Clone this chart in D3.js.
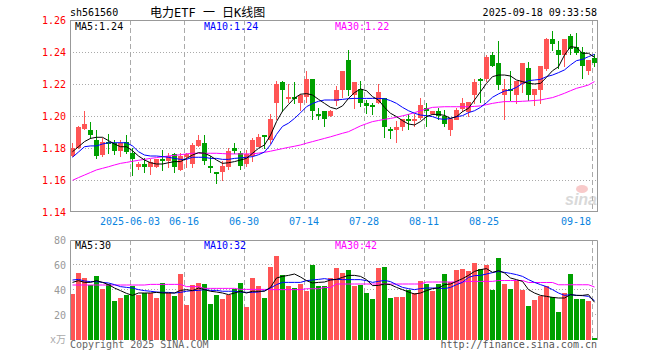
<!doctype html>
<html lang="zh-CN">
	<head>
		<meta charset="UTF-8" />
		<title>电力ETF 日K线图</title>
		<script src="https://d3js.org/d3.v7.min.js"></script>
		<style>
			body {
				margin: 0;
				background: #fff;
			}
			svg {
				display: block;
				font-family: 'DejaVu Sans Mono', 'Noto Sans CJK SC', monospace;
				font-size: 10px;
			}
			.grid-h {
				stroke: #aaa;
				stroke-dasharray: 1, 2;
			}
			.grid-v {
				stroke: #aaa;
				stroke-dasharray: 5, 3;
			}
			.frame {
				stroke: #999;
				fill: none;
			}
			.ma {
				fill: none;
				stroke-width: 1;
			}
		</style>
	</head>
	<body>
		<svg width="660" height="360"></svg>
		<script>
			// trading days shown on the chart
			const dates = [
				'2025-05-19', '2025-05-20', '2025-05-21', '2025-05-22', '2025-05-23', '2025-05-26', '2025-05-27', '2025-05-28', '2025-05-29', '2025-05-30',
				'2025-06-03', '2025-06-04', '2025-06-05', '2025-06-06', '2025-06-09', '2025-06-10', '2025-06-11', '2025-06-12', '2025-06-13', '2025-06-16',
				'2025-06-17', '2025-06-18', '2025-06-19', '2025-06-20', '2025-06-23', '2025-06-24', '2025-06-25', '2025-06-26', '2025-06-27', '2025-06-30',
				'2025-07-01', '2025-07-02', '2025-07-03', '2025-07-04', '2025-07-07', '2025-07-08', '2025-07-09', '2025-07-10', '2025-07-11', '2025-07-14',
				'2025-07-15', '2025-07-16', '2025-07-17', '2025-07-18', '2025-07-21', '2025-07-22', '2025-07-23', '2025-07-24', '2025-07-25', '2025-07-28',
				'2025-07-29', '2025-07-30', '2025-07-31', '2025-08-01', '2025-08-04', '2025-08-05', '2025-08-06', '2025-08-07', '2025-08-08', '2025-08-11',
				'2025-08-12', '2025-08-13', '2025-08-14', '2025-08-15', '2025-08-18', '2025-08-19', '2025-08-20', '2025-08-21', '2025-08-22', '2025-08-25',
				'2025-08-26', '2025-08-27', '2025-08-28', '2025-08-29', '2025-09-01', '2025-09-02', '2025-09-03', '2025-09-04', '2025-09-05', '2025-09-08',
				'2025-09-09', '2025-09-10', '2025-09-11', '2025-09-12', '2025-09-15', '2025-09-16', '2025-09-17', '2025-09-18'
			]

			const open = [
				1.175, 1.180, 1.192, 1.191, 1.185, 1.176, 1.184, 1.183, 1.178, 1.184,
				1.177, 1.168, 1.170, 1.168, 1.168, 1.173, 1.172, 1.176, 1.166, 1.174,
				1.170, 1.181, 1.183, 1.169, 1.165, 1.165, 1.168, 1.180, 1.177, 1.170,
				1.175, 1.181, 1.188, 1.185, 1.208, 1.221, 1.211, 1.212, 1.208, 1.212,
				1.223, 1.201, 1.203, 1.200, 1.209, 1.216, 1.235, 1.213, 1.217, 1.208,
				1.207, 1.208, 1.211, 1.192, 1.191, 1.193, 1.198, 1.197, 1.199, 1.205,
				1.201, 1.203, 1.200, 1.191, 1.198, 1.204, 1.203, 1.213, 1.223, 1.223,
				1.238, 1.233, 1.213, 1.217, 1.213, 1.220, 1.230, 1.213, 1.216, 1.229,
				1.248, 1.241, 1.238, 1.250, 1.243, 1.240, 1.228, 1.236
			]
			const high = [
				1.183, 1.194, 1.203, 1.196, 1.191, 1.186, 1.189, 1.185, 1.185, 1.188,
				1.180, 1.171, 1.174, 1.173, 1.173, 1.179, 1.177, 1.177, 1.177, 1.177,
				1.183, 1.188, 1.188, 1.175, 1.165, 1.172, 1.180, 1.183, 1.178, 1.179,
				1.186, 1.189, 1.188, 1.201, 1.222, 1.222, 1.220, 1.221, 1.214, 1.228,
				1.223, 1.205, 1.203, 1.204, 1.219, 1.228, 1.241, 1.221, 1.222, 1.210,
				1.208, 1.220, 1.211, 1.193, 1.197, 1.198, 1.201, 1.201, 1.211, 1.208,
				1.203, 1.205, 1.204, 1.199, 1.205, 1.211, 1.209, 1.223, 1.224, 1.238,
				1.240, 1.247, 1.223, 1.228, 1.222, 1.233, 1.234, 1.217, 1.231, 1.249,
				1.253, 1.247, 1.248, 1.251, 1.252, 1.243, 1.235, 1.239
			]
			const low = [
				1.175, 1.180, 1.192, 1.186, 1.174, 1.175, 1.177, 1.176, 1.175, 1.177,
				1.163, 1.167, 1.165, 1.164, 1.168, 1.166, 1.168, 1.165, 1.166, 1.168,
				1.168, 1.181, 1.170, 1.165, 1.158, 1.160, 1.167, 1.177, 1.167, 1.169,
				1.172, 1.181, 1.180, 1.183, 1.198, 1.203, 1.209, 1.208, 1.204, 1.209,
				1.198, 1.198, 1.194, 1.200, 1.207, 1.212, 1.213, 1.205, 1.206, 1.202,
				1.201, 1.208, 1.187, 1.186, 1.184, 1.191, 1.192, 1.194, 1.198, 1.194,
				1.201, 1.198, 1.194, 1.188, 1.198, 1.203, 1.200, 1.208, 1.209, 1.222,
				1.231, 1.217, 1.198, 1.210, 1.208, 1.215, 1.210, 1.207, 1.208, 1.229,
				1.241, 1.230, 1.231, 1.239, 1.239, 1.224, 1.226, 1.231
			]
			const close = [
				1.180, 1.193, 1.195, 1.188, 1.175, 1.184, 1.183, 1.178, 1.183, 1.178,
				1.173, 1.170, 1.168, 1.171, 1.173, 1.172, 1.175, 1.168, 1.175, 1.176,
				1.182, 1.185, 1.172, 1.168, 1.164, 1.169, 1.178, 1.178, 1.169, 1.176,
				1.185, 1.187, 1.187, 1.198, 1.220, 1.216, 1.212, 1.211, 1.213, 1.223,
				1.203, 1.200, 1.198, 1.203, 1.216, 1.228, 1.216, 1.221, 1.208, 1.206,
				1.206, 1.215, 1.193, 1.191, 1.193, 1.198, 1.197, 1.198, 1.207, 1.203,
				1.203, 1.200, 1.195, 1.198, 1.204, 1.208, 1.209, 1.221, 1.222, 1.237,
				1.231, 1.219, 1.217, 1.216, 1.222, 1.233, 1.213, 1.217, 1.231, 1.248,
				1.245, 1.238, 1.248, 1.242, 1.239, 1.231, 1.235, 1.233
			]

			// moving averages as drawn on the chart
			const ma5 = [
				1.1777, 1.1808, 1.184, 1.186, 1.1867, 1.1867, 1.1846, 1.1825, 1.1808, 1.1808,
				1.1783, 1.175, 1.1725, 1.1708, 1.17, 1.17, 1.1708, 1.1715, 1.1715, 1.1735,
				1.1756, 1.1771, 1.1767, 1.175, 1.1725, 1.1704, 1.1708, 1.1715, 1.1725, 1.1735,
				1.1767, 1.1798, 1.1819, 1.1880, 1.1965, 1.2030, 1.2072, 1.2112, 1.2136, 1.2140,
				1.2131, 1.2104, 1.2079, 1.2054, 1.2044, 1.2063, 1.211, 1.2146, 1.2169, 1.2158,
				1.2121, 1.21, 1.2054, 1.2017, 1.1996, 1.1971, 1.195, 1.1944, 1.1965, 1.1996,
				1.201, 1.201, 1.2004, 1.1985, 1.1996, 1.2027, 1.2048, 1.21, 1.2152, 1.2204,
				1.2246, 1.2256, 1.2256, 1.225, 1.2225, 1.2215, 1.2204, 1.22, 1.2204, 1.2242,
				1.2283, 1.2308, 1.2381, 1.2433, 1.2429, 1.2392, 1.2392, 1.2367
			]
			const ma10 = [
				1.1742, 1.1775, 1.1808, 1.1813, 1.1813, 1.1825, 1.1833, 1.1833, 1.1833, 1.1833,
				1.1813, 1.1777, 1.1756, 1.175, 1.175, 1.1746, 1.1742, 1.1735, 1.1729, 1.1729,
				1.1742, 1.1742, 1.1742, 1.1735, 1.1735, 1.1729, 1.1729, 1.1735, 1.1738, 1.1742,
				1.1746, 1.1758, 1.1775, 1.182, 1.1885, 1.1935, 1.1955, 1.1985, 1.202, 1.2058,
				1.2078, 1.2092, 1.21, 1.21, 1.21, 1.2104, 1.2108, 1.211, 1.211, 1.211,
				1.211, 1.211, 1.2108, 1.2096, 1.2079, 1.2054, 1.2033, 1.2017, 1.2006, 1.2002,
				1.1996, 1.1983, 1.1979, 1.1985, 1.1996, 1.2002, 1.2021, 1.2033, 1.2054, 1.2083,
				1.2117, 1.2138, 1.2156, 1.2163, 1.2179, 1.2204, 1.2221, 1.2225, 1.2229, 1.2246,
				1.2256, 1.2271, 1.2288, 1.2319, 1.2346, 1.2354, 1.2371, 1.2385
			]
			const ma30 = [
				1.1598, 1.1615, 1.1631, 1.1647, 1.1663, 1.1673, 1.1683, 1.1694, 1.1704, 1.171,
				1.1717, 1.1723, 1.1729, 1.1735, 1.174, 1.1745, 1.175, 1.1754, 1.1758, 1.1763,
				1.1767, 1.1767, 1.1767, 1.1767, 1.1767, 1.1765, 1.1763, 1.1763, 1.1763, 1.1763,
				1.1763, 1.1768, 1.1773, 1.178, 1.1788, 1.1796, 1.1804, 1.1811, 1.1819, 1.183,
				1.184, 1.185, 1.186, 1.187, 1.1881, 1.1892, 1.1902, 1.192, 1.1938, 1.1952,
				1.1965, 1.1972, 1.1979, 1.1985, 1.1992, 1.2001, 1.201, 1.2021, 1.2033, 1.2044,
				1.2054, 1.2056, 1.2058, 1.2058, 1.2058, 1.2058, 1.2058, 1.206, 1.2063, 1.2071,
				1.2079, 1.2085, 1.209, 1.209, 1.209, 1.2092, 1.2094, 1.2097, 1.21, 1.2108,
				1.2115, 1.2128, 1.2142, 1.2158, 1.2173, 1.2183, 1.2194, 1.2215
			]

			// volume, 万手
			const volume = [
				37.1, 53.9, 49.6, 43.7, 51.2, 40.8, 44.8, 31.2, 33.6, 36.3,
				43.5, 36.3, 37.6, 37.6, 33.6, 45.6, 37.6, 35.2, 52.8, 28.3,
				43.7, 45.9, 44.8, 28.8, 36.0, 32.8, 36.0, 40.8, 45.9, 26.4,
				49.6, 43.2, 33.6, 58.4, 67.5, 51.7, 43.2, 41.6, 44.8, 39.5,
				60.0, 43.2, 43.2, 49.6, 57.6, 53.9, 56.0, 43.2, 44.3, 37.9,
				32.8, 57.6, 58.4, 33.6, 34.4, 34.4, 40.0, 37.6, 47.2, 44.8,
				39.2, 44.8, 52.8, 46.4, 56.0, 56.8, 55.2, 61.6, 56.8, 60.0,
				40.0, 65.6, 44.8, 40.8, 47.2, 40.0, 27.2, 32.0, 35.2, 43.2,
				34.4, 22.4, 37.6, 52.8, 32.8, 32.8, 31.2, 1.6
			]
			const vma5 = [
				46.1, 47.5, 46.1, 46.1, 47.5, 46.1, 44.3, 41.6, 39.5, 37.3,
				35.7, 37.6, 37.6, 37.6, 38.1, 37.6, 37.6, 37.6, 39.7, 40.3,
				39.5, 41.6, 40.3, 39.0, 38.4, 37.6, 36.3, 37.6, 39.0, 37.6,
				39.0, 39.0, 39.0, 42.1, 49.6, 50.9, 51.7, 52.8, 50.4, 47.5,
				45.6, 46.1, 46.4, 48.0, 48.5, 50.1, 51.7, 51.7, 50.9, 48.3,
				43.5, 43.7, 44.8, 44.3, 42.1, 40.3, 38.4, 36.8, 37.6, 39.5,
				41.1, 41.6, 44.3, 44.8, 46.9, 49.1, 51.7, 54.9, 56.3, 57.1,
				54.1, 55.5, 53.6, 49.6, 48.3, 46.9, 40.3, 37.6, 35.7, 34.9,
				34.1, 33.6, 33.6, 36.3, 35.7, 35.7, 36.3, 30.2
			]
			const vma10 = [
				48.0, 48.5, 47.2, 46.7, 46.7, 46.1, 45.6, 44.3, 42.7, 42.1,
				41.6, 40.3, 39.5, 39.0, 38.4, 38.1, 38.1, 37.6, 38.1, 39.0,
				39.5, 39.7, 40.3, 39.7, 39.7, 39.0, 39.0, 39.0, 38.4, 38.1,
				38.1, 38.4, 39.5, 41.6, 44.3, 46.1, 46.1, 46.1, 46.1, 47.5,
				48.0, 48.5, 49.1, 48.3, 48.5, 48.3, 48.3, 48.3, 48.3, 47.5,
				46.1, 46.9, 47.7, 46.7, 44.3, 42.1, 41.1, 40.3, 41.1, 41.6,
				41.6, 41.6, 41.1, 42.1, 44.3, 46.1, 50.1, 51.5, 51.7, 52.8,
				53.9, 54.9, 54.1, 53.3, 52.3, 50.9, 48.3, 46.1, 44.3, 42.7,
				40.3, 37.6, 35.7, 36.3, 35.7, 35.5, 34.9, 31.5
			]
			const vma30 = [
				44.0, 44.0, 44.0, 44.0, 44.0, 44.0, 44.0, 44.0, 44.0, 44.0,
				44.0, 44.0, 44.0, 44.5, 44.5, 44.5, 44.5, 44.5, 44.5, 42.7,
				42.7, 42.7, 41.3, 41.3, 41.3, 41.3, 41.3, 41.3, 40.5, 40.5,
				40.5, 40.5, 40.5, 40.3, 40.3, 40.3, 40.3, 40.3, 40.3, 41.0,
				41.0, 41.0, 42.0, 42.0, 44.8, 44.8, 44.8, 44.8, 44.8, 44.8,
				44.8, 44.8, 44.8, 44.8, 44.8, 44.8, 44.8, 44.8, 44.8, 46.4,
				46.4, 46.4, 46.4, 46.4, 46.4, 46.4, 46.9, 46.9, 46.9, 46.9,
				46.9, 47.6, 47.6, 47.6, 47.6, 47.6, 46.0, 46.0, 46.0, 46.0,
				46.0, 44.2, 44.2, 44.2, 44.2, 44.2, 44.2, 42.4
			]

			const priceTicks = [1.26, 1.24, 1.22, 1.2, 1.18, 1.16, 1.14]
			const volumeTicks = [80, 60, 40, 20]
			const dateTicks = ['2025-06-03', '2025-06-16', '2025-06-30', '2025-07-14', '2025-07-28', '2025-08-11', '2025-08-25', '2025-09-18']

			const red = '#ff5555'
			const green = '#00a000'

			const svg = d3.select('svg')

			const x = d3
				.scaleBand()
				.domain(dates)
				.range([70, 598])
				.paddingInner(1 / 6)
				.paddingOuter(1 / 12)
				.align(0)
			const y = d3.scaleLinear().domain([1.14, 1.26]).range([212, 20])
			const yv = d3.scaleLinear().domain([0, 80]).range([340, 240])
			const mid = (d) => x(d) + x.bandwidth() / 2
			const crisp = (v) => Math.round(v) + 0.5

			const rows = dates.map((d, i) => ({
				date: d,
				open: open[i],
				high: high[i],
				low: low[i],
				close: close[i],
				volume: volume[i],
				up: close[i] >= open[i]
			}))

			// header
			svg.append('text').attr('x', 70).attr('y', 16).text('sh561560')
			svg.append('text')
				.attr('x', 150)
				.attr('y', 17)
				.style('font-size', '12px')
				.text('电力ETF 一 日K线图')
			svg.append('text')
				.attr('x', 597)
				.attr('y', 16)
				.attr('text-anchor', 'end')
				.text('2025-09-18 09:33:58')

			// grid
			const grid = svg.append('g')
			grid.selectAll('line.ph')
				.data(priceTicks.slice(1, -1))
				.join('line')
				.attr('class', 'grid-h')
				.attr('x1', 70)
				.attr('x2', 598)
				.attr('y1', (d) => crisp(y(d)))
				.attr('y2', (d) => crisp(y(d)))
			grid.selectAll('line.vh')
				.data([60, 40, 20, 0])
				.join('line')
				.attr('class', 'grid-h')
				.attr('x1', 70)
				.attr('x2', 598)
				.attr('y1', (d) => crisp(yv(d)) - 1)
				.attr('y2', (d) => crisp(yv(d)) - 1)
			dateTicks.forEach((d) => {
				grid.append('line')
					.attr('class', 'grid-v')
					.attr('x1', x(d) + 0.5)
					.attr('x2', x(d) + 0.5)
					.attr('y1', 20)
					.attr('y2', 212)
				grid.append('line')
					.attr('class', 'grid-v')
					.attr('x1', x(d) + 0.5)
					.attr('x2', x(d) + 0.5)
					.attr('y1', 240)
					.attr('y2', 340)
			})

			// sina watermark
			const mark = svg.append('g').attr('opacity', 0.55)
			mark.append('ellipse')
				.attr('cx', 582)
				.attr('cy', 189)
				.attr('rx', 6)
				.attr('ry', 4)
				.attr('fill', '#f3a0a0')
			mark.append('text')
				.attr('x', 597)
				.attr('y', 205)
				.attr('text-anchor', 'end')
				.style('font-family', 'Liberation Sans, sans-serif')
				.style('font-size', '16px')
				.style('font-weight', 'bold')
				.style('font-style', 'italic')
				.attr('fill', '#bbb')
				.text('sina')

			// candles
			const candle = svg.append('g').selectAll('g').data(rows).join('g')
			candle.append('line')
				.attr('x1', (d) => mid(d.date))
				.attr('x2', (d) => mid(d.date))
				.attr('y1', (d) => Math.round(y(d.high)))
				.attr('y2', (d) => Math.round(y(d.low)) + 1)
				.attr('stroke', (d) => (d.up ? red : green))
			candle.append('rect')
				.attr('x', (d) => x(d.date))
				.attr('width', x.bandwidth())
				.attr('y', (d) => Math.round(y(Math.max(d.open, d.close))))
				.attr('height', (d) => Math.max(1, Math.round(Math.abs(y(d.open) - y(d.close)))))
				.attr('fill', (d) => (d.up ? red : green))
				.attr('shape-rendering', 'crispEdges')

			// volume bars
			svg.append('g')
				.selectAll('rect')
				.data(rows)
				.join('rect')
				.attr('x', (d) => x(d.date))
				.attr('width', x.bandwidth())
				.attr('y', (d) => Math.round(yv(d.volume)))
				.attr('height', (d) => 340 - Math.round(yv(d.volume)))
				.attr('fill', (d) => (d.up ? red : green))
				.attr('shape-rendering', 'crispEdges')

			// moving average lines
			const drawLine = (values, scale, color) => {
				const line = d3
					.line()
					.x((d, i) => mid(dates[i]))
					.y((d) => scale(d))
				svg.append('path')
					.datum(values)
					.attr('class', 'ma')
					.attr('stroke', color)
					.attr('d', line)
			}
			drawLine(ma30, y, '#ff00ff')
			drawLine(ma10, y, '#0000ff')
			drawLine(ma5, y, '#000')
			drawLine(vma30, yv, '#ff00ff')
			drawLine(vma10, yv, '#0000ff')
			drawLine(vma5, yv, '#000')

			// frames
			svg.append('rect')
				.attr('class', 'frame')
				.attr('x', 70.5)
				.attr('y', 20.5)
				.attr('width', 527)
				.attr('height', 191)
			svg.append('path')
				.attr('class', 'frame')
				.attr('d', 'M70.5,340V240.5H597.5V340')

			// axes
			const priceAxis = svg
				.append('g')
				.attr('transform', 'translate(70,0)')
				.call(d3.axisLeft(y).tickValues(priceTicks).tickFormat(d3.format('.2f')).tickSize(0).tickPadding(4))
			priceAxis.select('.domain').remove()
			priceAxis.selectAll('text').attr('fill', '#f00')

			const volumeAxis = svg
				.append('g')
				.attr('transform', 'translate(70,0)')
				.call(d3.axisLeft(yv).tickValues(volumeTicks).tickSize(0).tickPadding(4))
			volumeAxis.select('.domain').remove()
			volumeAxis.selectAll('text').attr('fill', '#999')

			svg.selectAll('.tick text').style('font-family', null).style('font-size', '10px')
			svg.selectAll('g[font-family]').attr('font-family', null).attr('font-size', null)

			svg.append('text')
				.attr('x', 66)
				.attr('y', 343)
				.attr('text-anchor', 'end')
				.attr('fill', '#aaa')
				.text('x万')

			// date labels
			svg.append('g')
				.selectAll('text')
				.data(dateTicks)
				.join('text')
				.attr('x', (d) => x(d))
				.attr('y', 225)
				.attr('text-anchor', 'middle')
				.attr('fill', '#0a84e0')
				.text((d, i) => (i === 0 ? d : d.slice(5)))
				.each(function () {
					const w = this.getComputedTextLength()
					const cx = +this.getAttribute('x')
					if (cx + w / 2 > 592) this.setAttribute('x', 591 - w / 2)
				})

			// legends
			const fmt2 = d3.format('.2f')
			const fmt0 = d3.format('.0f')
			const legends = [
				{ label: 'MA5:' + fmt2(ma5[ma5.length - 1]), x: 75, y: 30, color: '#000' },
				{ label: 'MA10:' + fmt2(ma10[ma10.length - 1]), x: 204, y: 30, color: '#0000ff' },
				{ label: 'MA30:' + fmt2(ma30[ma30.length - 1]), x: 335, y: 30, color: '#ff00ff' },
				{ label: 'MA5:' + fmt0(vma5[vma5.length - 1]), x: 75, y: 249, color: '#000' },
				{ label: 'MA10:' + fmt0(vma10[vma10.length - 1]), x: 204, y: 249, color: '#0000ff' },
				{ label: 'MA30:' + fmt0(vma30[vma30.length - 1]), x: 335, y: 249, color: '#ff00ff' }
			]
			svg.append('g')
				.selectAll('text')
				.data(legends)
				.join('text')
				.attr('x', (d) => d.x)
				.attr('y', (d) => d.y)
				.attr('fill', (d) => d.color)
				.text((d) => d.label)

			// footer
			svg.append('text').attr('x', 70).attr('y', 348).attr('fill', '#666').text('Copyright 2025 SINA.COM')
			svg.append('text')
				.attr('x', 597)
				.attr('y', 348)
				.attr('text-anchor', 'end')
				.attr('fill', '#555')
				.text('http://finance.sina.com.cn')
		</script>
	</body>
</html>
